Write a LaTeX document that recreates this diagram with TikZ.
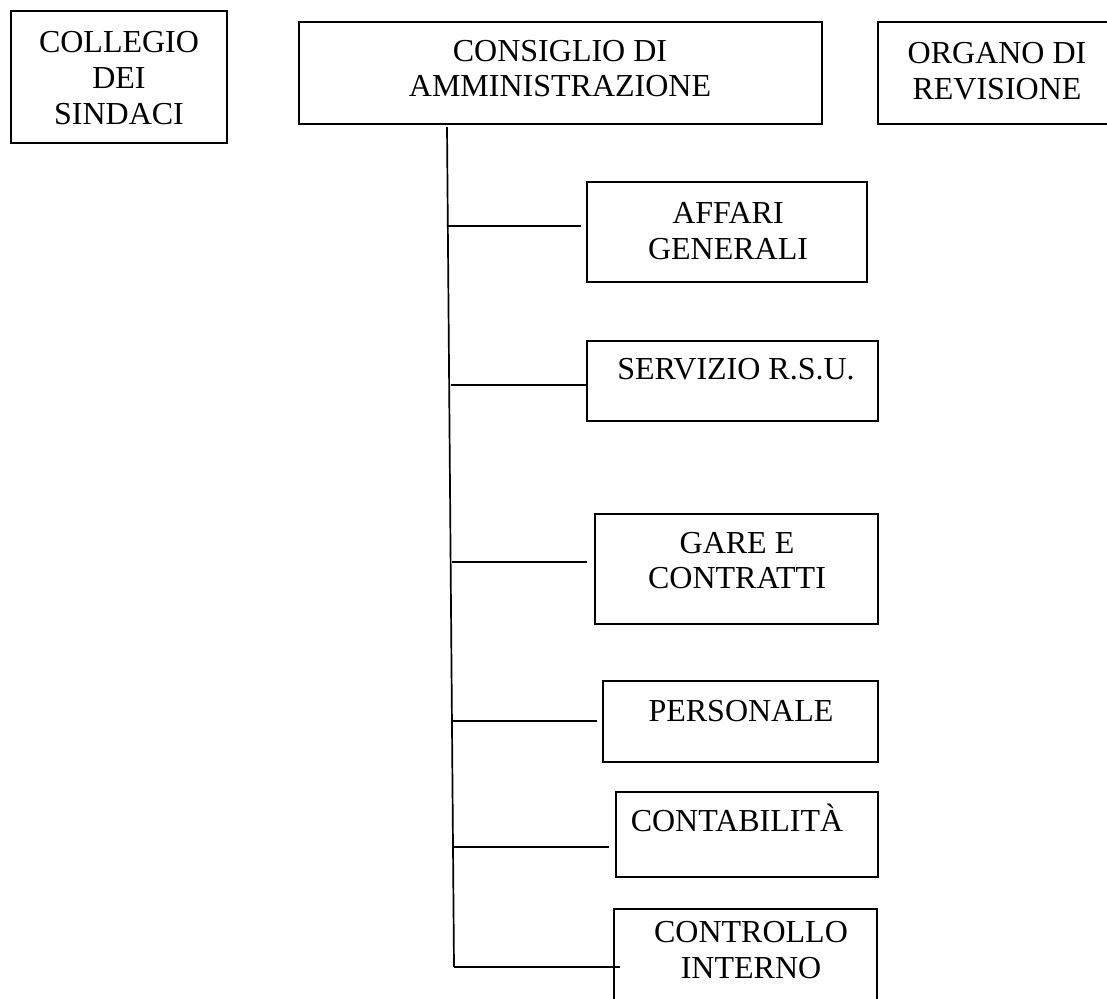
\documentclass[tikz,border=0pt]{standalone}
\usepackage{fontspec}
\setmainfont{Liberation Serif}
\begin{document}
\begin{tikzpicture}[x=0.5pt, y=-0.5pt, line width=0.85pt]
\tikzstyle{ufficio}=[draw=black, rectangle, inner sep=0pt]
\tikzstyle{testo}=[inner sep=0pt, align=center, font=\fontsize{16pt}{17.9pt}\selectfont]
\useasboundingbox (0,0) rectangle (1107,998);

% organi di vertice
\node [ufficio, minimum width=108pt, minimum height=66pt] (collegio) at (119,77) {};
\node [testo] (collegio-t) at (119,78) {COLLEGIO\\DEI\\SINDACI};

\node [ufficio, minimum width=261.5pt, minimum height=51pt] (consiglio) at (560.5,73) {};
\node [testo] (consiglio-t) at (560,68.5) {CONSIGLIO DI\\AMMINISTRAZIONE};

\node [ufficio, minimum width=119.5pt, minimum height=51pt] (organo) at (997.5,73) {};
\node [testo] (organo-t) at (997,70.8) {ORGANO DI\\REVISIONE};

% uffici
\node [ufficio, minimum width=140pt, minimum height=50pt] (affari) at (727,232) {};
\node [testo] (affari-t) at (728,231) {AFFARI\\GENERALI};

\node [ufficio, minimum width=145.5pt, minimum height=40pt] (servizio) at (732.5,381) {};
\node [testo, anchor=base] (servizio-t) at (736,379.3) {SERVIZIO R.S.U.};

\node [ufficio, minimum width=141.5pt, minimum height=55pt] (gare) at (736.5,569) {};
\node [testo] (gare-t) at (737,560.5) {GARE E\\CONTRATTI};

\node [ufficio, minimum width=137.5pt, minimum height=40.5pt] (personale) at (740.5,721.5) {};
\node [testo, anchor=base] (personale-t) at (741,721) {PERSONALE};

\node [ufficio, minimum width=131pt, minimum height=42.5pt] (contabilita) at (747,834.5) {};
\node [testo, anchor=base] (contabilita-t) at (737,831) {CONTABILITÀ};

\node [ufficio, minimum width=131.5pt, minimum height=50.5pt] (controllo) at (745.5,959.5) {};
\node [testo] (controllo-t) at (751,949.7) {CONTROLLO\\INTERNO};

% linea principale
\coordinate (tronco-a) at (447,127);
\coordinate (tronco-z) at (454,967);
\draw [black] (tronco-a) -- (tronco-z);

% rami
\coordinate (r-affari) at (448,226);
\coordinate (e-affari) at (581,226);
\draw [black] (r-affari) -- (e-affari);

\coordinate (r-servizio) at (451,385);
\draw [black] (r-servizio) -- (r-servizio -| servizio.west);

\coordinate (r-gare) at (452,562);
\coordinate (e-gare) at (587,562);
\draw [black] (r-gare) -- (e-gare);

\coordinate (r-personale) at (453,721);
\coordinate (e-personale) at (597,721);
\draw [black] (r-personale) -- (e-personale);

\coordinate (r-contabilita) at (454,847);
\coordinate (e-contabilita) at (609,847);
\draw [black] (r-contabilita) -- (e-contabilita);

\coordinate (e-controllo) at (620,967);
\draw [black] (tronco-z) -- (e-controllo);
\end{tikzpicture}
\end{document}
